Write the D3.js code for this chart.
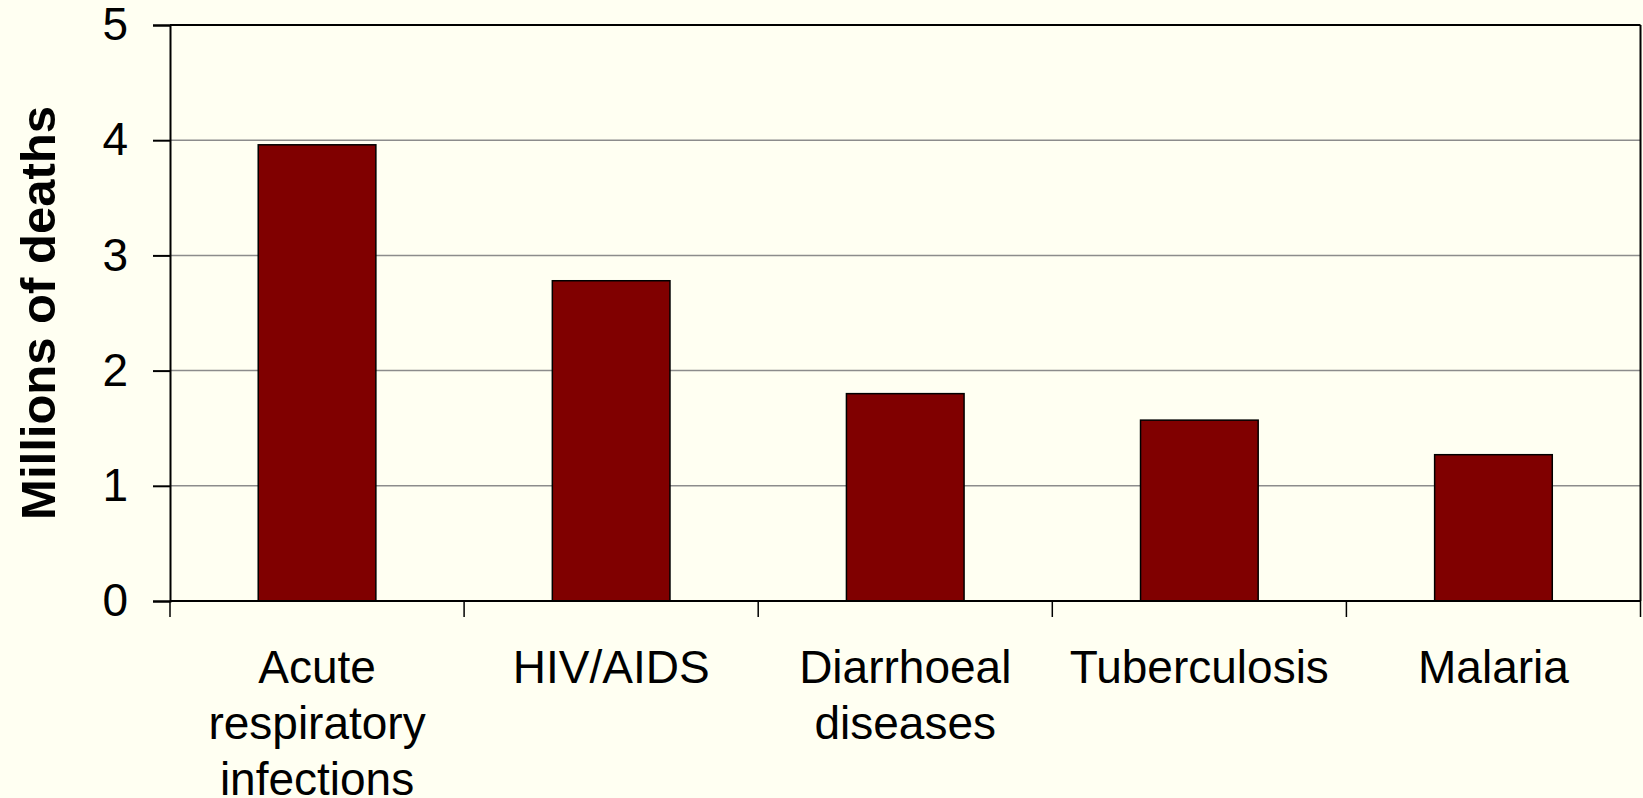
<!DOCTYPE html>
<html>
<head>
<meta charset="utf-8">
<script src="https://cdn.jsdelivr.net/npm/d3@7"></script>
<style>
  html, body { margin: 0; padding: 0; background: #fffff2; }
  svg { display: block; font-family: Arial, "Liberation Sans", sans-serif; }
</style>
</head>
<body>
<div id="chart"></div>
<script>
// data
const categories = [
  ['Acute', 'respiratory', 'infections'],
  ['HIV/AIDS'],
  ['Diarrhoeal', 'diseases'],
  ['Tuberculosis'],
  ['Malaria']
];
const deaths = [3.96, 2.78, 1.80, 1.57, 1.27];
const yTicks = [0, 1, 2, 3, 4, 5];
const yTitle = 'Millions of deaths';

const width = 1643;
const height = 798;
const margin = {t: 25, r: 2, b: 197, l: 170};

const svg = d3.select('#chart')
  .append('svg')
  .attr('width', width)
  .attr('height', height);

svg.append('rect')
  .attr('width', width)
  .attr('height', height)
  .attr('fill', '#fffff2');

const keys = categories.map(d => d.join(' '));

const x = d3.scaleBand()
  .domain(keys)
  .range([margin.l, width - margin.r - 0.5]);

const y = d3.scaleLinear()
  .domain([0, 5])
  .range([height - margin.b, margin.t]);

// gridlines
svg.append('g')
  .selectAll('line')
  .data(yTicks.filter(d => d > 0 && d < 5))
  .enter()
  .append('line')
  .attr('x1', margin.l)
  .attr('x2', x.range()[1])
  .attr('y1', d => y(d))
  .attr('y2', d => y(d))
  .attr('stroke', '#8c8c8c')
  .attr('stroke-width', 1.5);

// bars
svg.append('g')
  .selectAll('rect')
  .data(deaths)
  .enter()
  .append('rect')
  .attr('x', (d, i) => x(keys[i]) + x.bandwidth() * 0.3)
  .attr('width', x.bandwidth() * 0.4)
  .attr('y', d => y(d))
  .attr('height', d => y(0) - y(d))
  .attr('fill', '#800000')
  .attr('stroke', '#000')
  .attr('stroke-width', 1.5);

// frame top and right
svg.append('line')
  .attr('x1', margin.l).attr('x2', x.range()[1])
  .attr('y1', y(5)).attr('y2', y(5))
  .attr('stroke', '#000').attr('stroke-width', 2);
svg.append('line')
  .attr('x1', x.range()[1]).attr('x2', x.range()[1])
  .attr('y1', y(5)).attr('y2', y(0))
  .attr('stroke', '#000').attr('stroke-width', 2);

// y axis
const yAxis = svg.append('g')
  .attr('transform', `translate(${margin.l},0)`)
  .call(d3.axisLeft(y).tickValues(yTicks).tickSize(17).tickPadding(25).tickFormat(d3.format('d')));
yAxis.select('.domain').attr('stroke', '#000').attr('stroke-width', 2);
yAxis.selectAll('.tick line').attr('stroke', '#000').attr('stroke-width', 2);
yAxis.selectAll('.tick text')
  .attr('font-size', 46)
  .attr('fill', '#000')
  .attr('font-family', 'Arial, "Liberation Sans", sans-serif');

// x axis: ticks on category boundaries
const xAxis = svg.append('g')
  .attr('transform', `translate(0,${y(0)})`);
xAxis.append('line')
  .attr('x1', margin.l).attr('x2', x.range()[1])
  .attr('stroke', '#000').attr('stroke-width', 2);
const bounds = keys.map(k => x(k)).concat([x.range()[1]]);
xAxis.selectAll('line.tk')
  .data(bounds)
  .enter()
  .append('line')
  .attr('class', 'tk')
  .attr('x1', d => d).attr('x2', d => d)
  .attr('y1', 0).attr('y2', 16)
  .attr('stroke', '#000').attr('stroke-width', 1.5);

const labels = xAxis.selectAll('text.cat')
  .data(categories)
  .enter()
  .append('text')
  .attr('class', 'cat')
  .attr('x', (d, i) => x(keys[i]) + x.bandwidth() / 2)
  .attr('y', 82)
  .attr('text-anchor', 'middle')
  .attr('font-size', 46)
  .attr('fill', '#000');
labels.selectAll('tspan')
  .data(d => d)
  .enter()
  .append('tspan')
  .attr('x', function() { return this.parentNode.getAttribute('x'); })
  .attr('dy', (d, i) => i === 0 ? 0 : 56)
  .text(d => d);

// y title
svg.append('text')
  .attr('transform', `translate(55,${(y(0) + y(5)) / 2}) rotate(-90)`)
  .attr('text-anchor', 'middle')
  .attr('font-size', 49)
  .attr('font-weight', 'bold')
  .attr('fill', '#000')
  .text(yTitle);
</script>
</body>
</html>
